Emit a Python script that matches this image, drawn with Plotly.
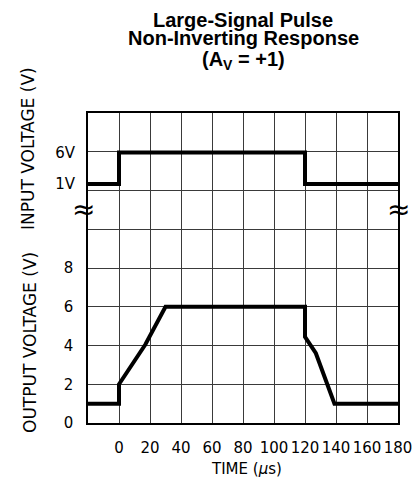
import plotly.graph_objects as go

# ---- data ----
time_in = [-20, 0, 0, 120, 120, 180]
volt_in = [1, 1, 6, 6, 1, 1]

time_out = [-20, 0, 0, 17, 30, 120, 120, 127, 139, 180]
volt_out = [1, 1, 2, 4.05, 6, 6, 4.45, 3.6, 1, 1]

x_ticks = [0, 20, 40, 60, 80, 100, 120, 140, 160, 180]
y_grid = [0, 2, 4, 6, 8, 10, 12, 14, 16]
y_labels = ["0", "2", "4", "6", "8", "", "", "", ""]
in_ticks = [1, 6]
in_labels = ["1V", "6V"]

W, H = 417, 491
L, R, T, B = 88, 19, 113, 68
ph = H - T - B

def py(Y):
    return (H - B - Y) / ph

def px(X):
    return (X - L) / (W - L - R)

# input axis range so 6V and 1V sit in the upper band
f6 = (H - B - 152.5) / ph
f1 = (H - B - 184.0) / ph
span = 5 / (f6 - f1)
r0 = 6 - f6 * span
r1 = r0 + span

tick_font = dict(family="DejaVu Sans", size=15, color="black")

fig = go.Figure()
fig.add_trace(go.Scatter(x=time_out, y=volt_out, mode="lines",
                         line=dict(color="black", width=4), yaxis="y",
                         showlegend=False, hoverinfo="skip"))
fig.add_trace(go.Scatter(x=time_in, y=volt_in, mode="lines",
                         line=dict(color="black", width=4), yaxis="y2",
                         showlegend=False, hoverinfo="skip"))

fig.update_layout(
    width=W, height=H,
    margin=dict(l=L, r=R, t=T, b=B, pad=0, autoexpand=False),
    paper_bgcolor="white", plot_bgcolor="white",
    xaxis=dict(range=[-20, 180], tickvals=x_ticks,
               ticktext=[str(v) for v in x_ticks], tickangle=0,
               showgrid=True, gridcolor="#3a3a3a", gridwidth=1.3,
               showline=True, linecolor="black", linewidth=1.5, mirror=True,
               zeroline=False, ticks="", ticklabelstandoff=10,
               tickfont=tick_font, automargin=False),
    yaxis=dict(range=[0, 16], tickvals=y_grid, ticktext=y_labels,
               showgrid=True, gridcolor="#3a3a3a", gridwidth=1.3,
               showline=True, linecolor="black", linewidth=1.5, mirror=True,
               zeroline=False, ticks="", ticklabelstandoff=10,
               tickfont=tick_font, automargin=False),
    yaxis2=dict(range=[r0, r1], overlaying="y", side="left",
                tickvals=in_ticks, ticktext=in_labels,
                showgrid=False, showline=False, zeroline=False, ticks="",
                ticklabelstandoff=12, tickfont=tick_font, automargin=False),
)

title_font = dict(family="Liberation Sans", size=20, color="black")
titles = [("<b>Large-Signal Pulse</b>", 20, "middle"),
          ("<b>Non-Inverting Response</b>", 38, "middle"),
          ("<b>(A<sub>V</sub> = +1)</b>", 46, "top")]
for txt, Y, anc in titles:
    fig.add_annotation(text=txt, xref="paper", yref="paper", x=0.5, y=py(Y),
                       xanchor="center", yanchor=anc, showarrow=False,
                       font=title_font)

fig.add_annotation(text="TIME (<i>μ</i>s)", xref="paper", yref="paper",
                   x=px(246), y=py(469), xanchor="center", yanchor="middle",
                   showarrow=False, font=tick_font)

lab_font = dict(family="DejaVu Sans", size=17, color="black")
fig.add_annotation(text="INPUT VOLTAGE (V)", textangle=-90, xref="paper", yref="paper",
                   x=px(28), y=py(149), xanchor="center", yanchor="middle",
                   showarrow=False, font=lab_font)
fig.add_annotation(text="OUTPUT VOLTAGE (V)", textangle=-90, xref="paper", yref="paper",
                   x=px(30), y=py(343), xanchor="center", yanchor="middle",
                   showarrow=False, font=lab_font)

brk_font = dict(family="DejaVu Sans", size=28, color="black")
for X in (83, 398):
    fig.add_annotation(text="≈", xref="paper", yref="paper",
                       x=px(X), y=py(209), xanchor="center", yanchor="middle",
                       showarrow=False, font=brk_font)

fig.write_html("out.html", config={"displayModeBar": False},
               post_script="document.body.style.margin='0';document.body.style.padding='0';")
